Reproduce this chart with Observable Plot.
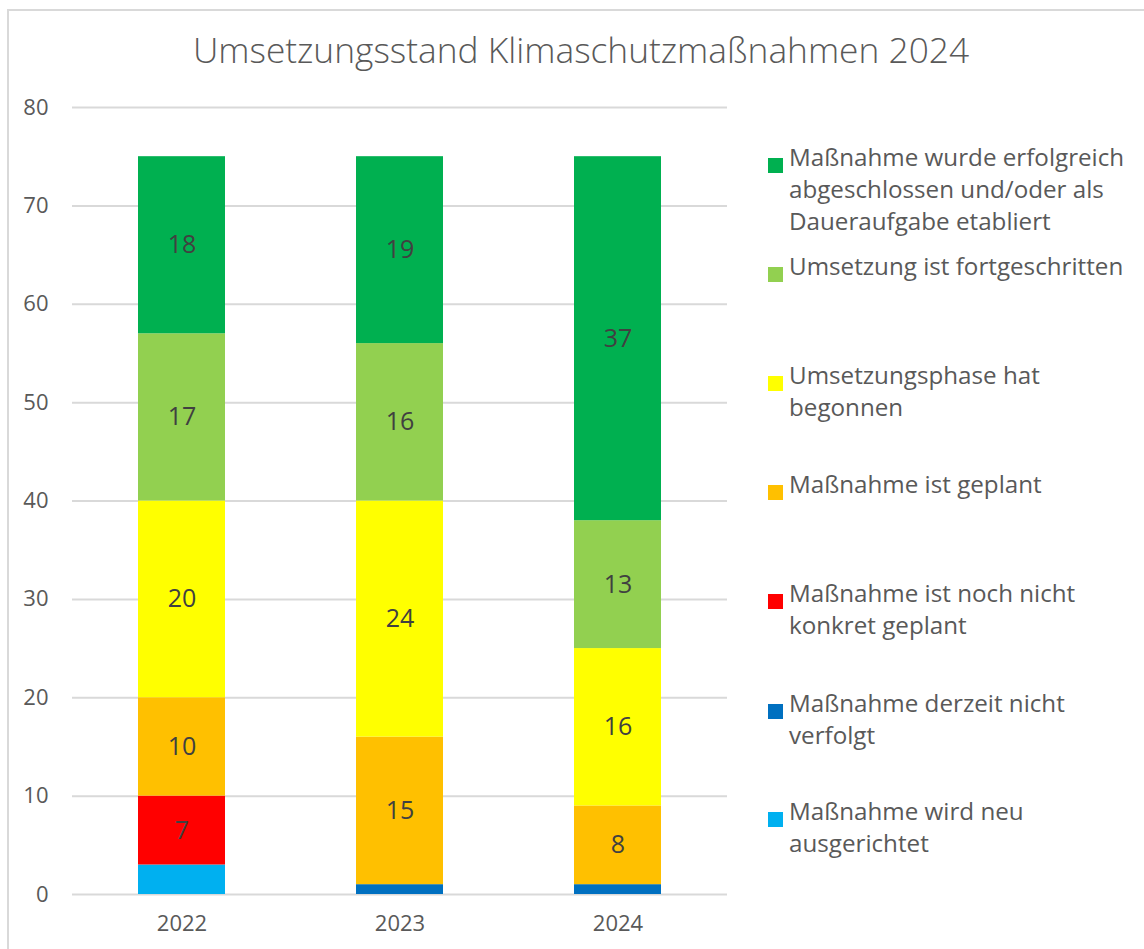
<!DOCTYPE html>
<html>
<head>
<meta charset="utf-8">
<script src="https://cdn.jsdelivr.net/npm/d3@7"></script>
<script src="https://cdn.jsdelivr.net/npm/@observablehq/plot@0.6"></script>
<style>
  body { margin: 0; background: #fff; font-family: "Open Sans", sans-serif; }
  #root { position: relative; width: 1144px; height: 949px; overflow: hidden; }
  #frame { position: absolute; left: 7px; top: 9px; width: 1150px; height: 960px; border: 2px solid #d9d9d9; box-sizing: border-box; }
  #title { position: absolute; left: 0; width: 1162px; top: 25px; text-align: center; font-size: 35.3px; font-weight: 300; color: #595959; white-space: nowrap; }
  #chart { position: absolute; left: 0; top: 0; }
  .item { position: absolute; left: 768px; width: 376px; font-size: 24.2px; line-height: 32px; color: #595959; padding-left: 21px; box-sizing: border-box; white-space: nowrap; }
  .sw { position: absolute; left: 0; top: 17px; width: 15px; height: 15px; }
</style>
</head>
<body>
<div id="root">
  <div id="frame"></div>
  <div id="chart"></div>
  <div id="title">Umsetzungsstand Klimaschutzmaßnahmen 2024</div>
  <div id="legend"></div>
</div>
<script>
const years = ["2022", "2023", "2024"];
const categories = [
  "Maßnahme wird neu ausgerichtet",
  "Maßnahme derzeit nicht verfolgt",
  "Maßnahme ist noch nicht konkret geplant",
  "Maßnahme ist geplant",
  "Umsetzungsphase hat begonnen",
  "Umsetzung ist fortgeschritten",
  "Maßnahme wurde erfolgreich abgeschlossen und/oder als Daueraufgabe etabliert"
];
const colors = ["#00B0F0", "#0070C0", "#FF0000", "#FFC000", "#FFFF00", "#92D050", "#00B050"];
// values per category, for 2022, 2023, 2024
const neuAusgerichtet = [3, 0, 0];
const nichtVerfolgt = [0, 1, 1];
const nichtKonkret = [7, 0, 0];
const geplant = [10, 15, 8];
const begonnen = [20, 24, 16];
const fortgeschritten = [17, 16, 13];
const abgeschlossen = [18, 19, 37];
const series = [neuAusgerichtet, nichtVerfolgt, nichtKonkret, geplant, begonnen, fortgeschritten, abgeschlossen];
const yTicks = [0, 10, 20, 30, 40, 50, 60, 70, 80];

const data = [];
years.forEach((y, i) => {
  categories.forEach((c, j) => data.push({year: y, category: c, value: series[j][i]}));
});

const chart = Plot.plot({
  width: 740,
  height: 949,
  marginLeft: 72,
  marginRight: 13,
  marginTop: 107,
  marginBottom: 55,
  style: {fontFamily: "Open Sans, sans-serif", fontSize: "22px", color: "#595959", background: "transparent"},
  x: {domain: years, paddingInner: 0.6, paddingOuter: 0.3, label: null},
  y: {domain: [0, 80], label: null},
  color: {domain: categories, range: colors},
  marks: [
    Plot.gridY(yTicks, {stroke: "#d9d9d9", strokeWidth: 2, strokeOpacity: 1}),
    Plot.axisY(yTicks, {tickSize: 0, tickPadding: 24, label: null, fontSize: 22, fill: "#595959"}),
    Plot.axisX({tickSize: 0, tickPadding: 21, label: null, fontSize: 22, fill: "#595959"}),
    Plot.barY(data, {x: "year", y: "value", fill: "category", order: categories}),
    Plot.text(data, Plot.stackY({x: "year", y: "value", z: "category", order: categories,
      text: d => d.value > 3 ? String(d.value) : "", fill: "#404040", fontSize: 25}))
  ]
});
document.getElementById("chart").appendChild(chart);

const centers = [157, 266, 375, 484, 593, 703, 811];
const legendOrder = categories.slice().reverse();
const legend = document.getElementById("legend");
const labelsHtml = {
  "Maßnahme wurde erfolgreich abgeschlossen und/oder als Daueraufgabe etabliert": "Maßnahme wurde erfolgreich<br>abgeschlossen und/oder als<br>Daueraufgabe etabliert",
  "Umsetzung ist fortgeschritten": "Umsetzung ist fortgeschritten",
  "Umsetzungsphase hat begonnen": "Umsetzungsphase hat<br>begonnen",
  "Maßnahme ist geplant": "Maßnahme ist geplant",
  "Maßnahme ist noch nicht konkret geplant": "Maßnahme ist noch nicht<br>konkret geplant",
  "Maßnahme derzeit nicht verfolgt": "Maßnahme derzeit nicht<br>verfolgt",
  "Maßnahme wird neu ausgerichtet": "Maßnahme wird neu<br>ausgerichtet"
};
legendOrder.forEach((c, i) => {
  const div = document.createElement("div");
  div.className = "item";
  div.style.top = (centers[i] - 16) + "px";
  const sw = document.createElement("div");
  sw.className = "sw";
  sw.style.background = colors[categories.indexOf(c)];
  div.appendChild(sw);
  const span = document.createElement("span");
  span.innerHTML = labelsHtml[c];
  div.appendChild(span);
  legend.appendChild(div);
});
</script>
</body>
</html>
